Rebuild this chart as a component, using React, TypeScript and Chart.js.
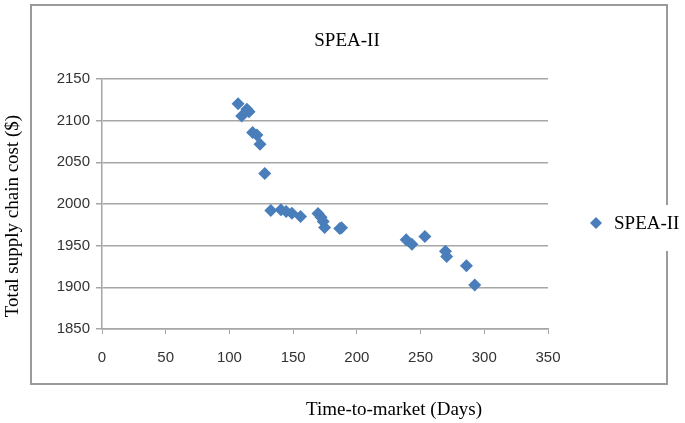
import React, { useEffect, useRef } from "react";
import { Chart, registerables } from "chart.js";

Chart.register(...registerables);

const chartTitle = "SPEA-II";
const seriesName = "SPEA-II";
const xAxisTitle = "Time-to-market (Days)";
const yAxisTitle = "Total supply chain cost ($)";

const timeToMarket = [106.8, 109.6, 113.7, 115.4, 118.2, 121.6, 124, 127.7, 132.5, 140.4, 144.5, 149, 155.8, 169.5, 171.9, 173.6, 174.7, 186.6, 188, 238.7, 243.2, 253.4, 269.5, 270.5, 286, 292.5];
const supplyChainCost = [2120.4, 2105.7, 2113.6, 2110.8, 2085.7, 2082.9, 2071.7, 2036.5, 1992.2, 1993, 1991, 1989, 1985, 1988.6, 1984.2, 1979, 1971.8, 1970.6, 1971.5, 1957, 1951.8, 1961, 1943.4, 1937, 1925.9, 1902.7];

const xMin = 0;
const xMax = 350;
const xStep = 50;
const yMin = 1850;
const yMax = 2150;
const yStep = 50;

const W = 685;
const H = 423;
const BLUE = "#4a7ebb";
const GRID = "#a6a6a6";
const SERIF = "'Liberation Serif', 'Times New Roman', serif";
const SANS = "'Liberation Sans', Arial, sans-serif";

const decorPlugin = {
  id: "decor",
  beforeDraw(chart: any) {
    const ctx = chart.ctx;
    ctx.save();
    ctx.fillStyle = "#ffffff";
    ctx.fillRect(0, 0, W, H);
    ctx.strokeStyle = "#9a9a9a";
    ctx.lineWidth = 2;
    ctx.strokeRect(31, 5, 636, 379);
    ctx.fillStyle = "#ffffff";
    ctx.fillRect(660, 205, 25, 46);
    ctx.restore();
  },
  afterDraw(chart: any) {
    const ctx = chart.ctx;
    ctx.save();
    ctx.fillStyle = "#000000";
    ctx.font = `19px ${SERIF}`;
    ctx.textAlign = "center";
    ctx.textBaseline = "middle";
    ctx.fillText(chartTitle, 347, 41);
    ctx.fillText(xAxisTitle, 394, 410);
    ctx.save();
    ctx.translate(13, 216);
    ctx.rotate(-Math.PI / 2);
    ctx.fillText(yAxisTitle, 0, 0);
    ctx.restore();
    ctx.textAlign = "left";
    ctx.fillText(seriesName, 614, 224);
    ctx.fillStyle = BLUE;
    ctx.beginPath();
    ctx.moveTo(596, 217);
    ctx.lineTo(602, 223);
    ctx.lineTo(596, 229);
    ctx.lineTo(590, 223);
    ctx.closePath();
    ctx.fill();
    ctx.restore();
  },
};

export default function App() {
  const ref = useRef<HTMLCanvasElement | null>(null);
  useEffect(() => {
    if (!ref.current) return;
    const points = timeToMarket.map((x, i) => ({ x, y: supplyChainCost[i] }));
    const chart = new Chart(ref.current, {
      type: "scatter",
      data: {
        datasets: [
          {
            label: seriesName,
            data: points,
            pointStyle: "rectRot",
            pointRadius: 6.5,
            backgroundColor: BLUE,
            borderColor: BLUE,
            borderWidth: 0,
          },
        ],
      },
      options: {
        responsive: false,
        animation: false,
        devicePixelRatio: 1,
        layout: { padding: { top: 79, right: 137, bottom: 0, left: 0 } },
        plugins: {
          legend: { display: false },
          title: { display: false },
          tooltip: { enabled: false },
        },
        scales: {
          x: {
            type: "linear",
            min: xMin,
            max: xMax,
            ticks: {
              stepSize: xStep,
              color: "#333333",
              font: { family: SANS, size: 15 },
              padding: 15,
              maxRotation: 0,
              callback: (v: any) => String(v),
            },
            grid: {
              display: true,
              drawOnChartArea: false,
              drawTicks: true,
              tickLength: 5,
              color: GRID,
            },
            border: { display: true, color: GRID, width: 1.5 },
            afterFit(scale: any) {
              scale.height = 94;
            },
          },
          y: {
            type: "linear",
            min: yMin,
            max: yMax,
            ticks: {
              stepSize: yStep,
              color: "#333333",
              font: { family: SANS, size: 15 },
              padding: 6,
              callback: (v: any) => String(v),
            },
            grid: {
              display: true,
              drawTicks: true,
              tickLength: 6,
              color: GRID,
              lineWidth: 1.5,
            },
            border: { display: true, color: GRID, width: 1.5 },
            afterFit(scale: any) {
              scale.width = 102;
            },
          },
        },
      },
      plugins: [decorPlugin],
    });
    return () => chart.destroy();
  }, []);
  return (
    <div style={{ position: "absolute", left: 0, top: 0, width: W, height: H }}>
      <canvas ref={ref} width={W} height={H} style={{ width: W, height: H }} />
    </div>
  );
}
